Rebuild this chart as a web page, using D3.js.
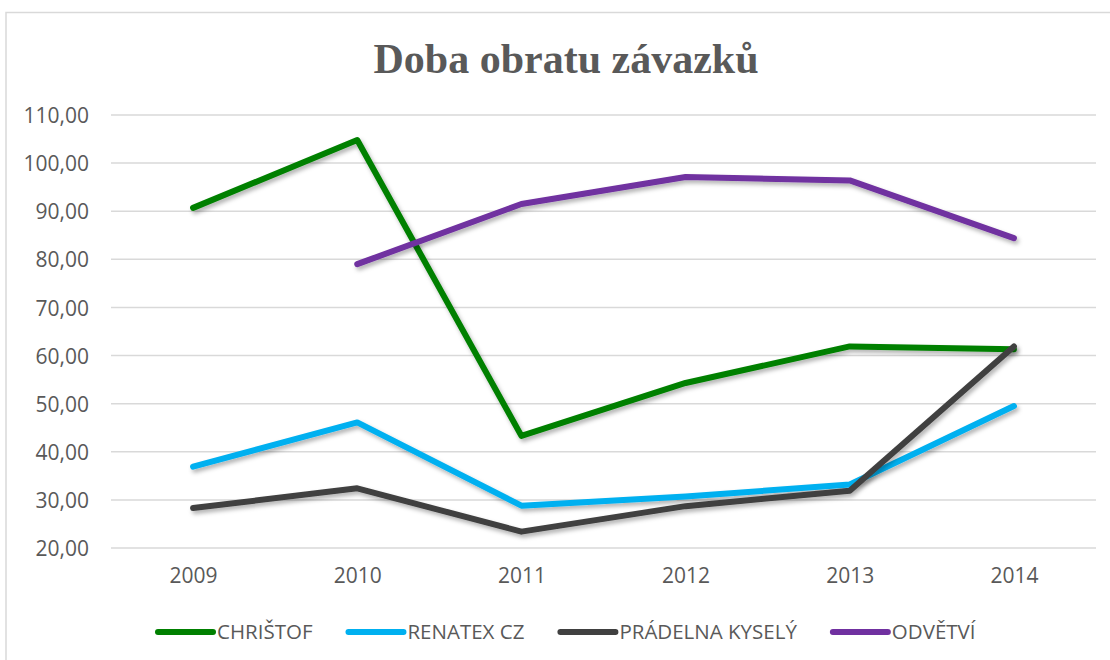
<!DOCTYPE html>
<html>
<head>
<meta charset="utf-8">
<script src="https://cdn.jsdelivr.net/npm/d3@7"></script>
<style>
  body { margin: 0; background: #fff; }
  text { font-family: "Open Sans", sans-serif; fill: #595959; }
</style>
</head>
<body>
<div class="chart"></div>
<script>
var years = ["2009", "2010", "2011", "2012", "2013", "2014"];
var yTicks = [20, 30, 40, 50, 60, 70, 80, 90, 100, 110];
var christof = [90.7, 104.8, 43.3, 54.3, 61.9, 61.3];
var renatex = [36.9, 46.1, 28.8, 30.7, 33.2, 49.5];
var pradelna = [28.3, 32.4, 23.4, 28.7, 31.9, 61.9];
var odvetvi = [null, 79.0, 91.5, 97.1, 96.4, 84.4];
var names = ["CHRIŠTOF", "RENATEX CZ", "PRÁDELNA KYSELÝ", "ODVĚTVÍ"];
var colors = ["#008000", "#00b0f0", "#404040", "#7030a0"];

var series = [christof, renatex, pradelna, odvetvi].map(function (vals, i) {
  return { name: names[i], color: colors[i], values: vals };
});

var svgWidth = 1110;
var svgHeight = 660;
var margin = { top: 115, right: 14, bottom: 112, left: 111 };
var width = svgWidth - margin.left - margin.right;
var height = svgHeight - margin.top - margin.bottom;

var svg = d3.select(".chart")
  .append("svg")
  .attr("width", svgWidth)
  .attr("height", svgHeight);

var defs = svg.append("defs");
var filter = defs.append("filter")
  .attr("id", "shadow")
  .attr("x", "-10%").attr("y", "-10%")
  .attr("width", "120%").attr("height", "130%");
filter.append("feDropShadow")
  .attr("dx", 2).attr("dy", 3)
  .attr("stdDeviation", 2)
  .attr("flood-color", "#000")
  .attr("flood-opacity", 0.3);

// outer chart border
svg.append("rect")
  .attr("x", 6).attr("y", 12.5)
  .attr("width", svgWidth + 10).attr("height", svgHeight + 10)
  .attr("fill", "none")
  .attr("stroke", "#d9d9d9")
  .attr("stroke-width", 1.5);

svg.append("text")
  .attr("x", 566)
  .attr("y", 73)
  .attr("text-anchor", "middle")
  .style("font-family", "'Liberation Serif', 'Times New Roman', serif")
  .style("font-weight", "bold")
  .style("font-size", "42px")
  .text("Doba obratu závazků");

var chartGroup = svg.append("g")
  .attr("transform", `translate(${margin.left}, ${margin.top})`);

var x = d3.scalePoint()
  .domain(years)
  .range([0, width])
  .padding(0.5);

var y = d3.scaleLinear()
  .domain([20, 110])
  .range([height, 0]);

// gridlines
chartGroup.append("g")
  .selectAll("line")
  .data(yTicks)
  .enter()
  .append("line")
  .attr("x1", 0).attr("x2", width)
  .attr("y1", d => y(d)).attr("y2", d => y(d))
  .attr("stroke", "#d9d9d9")
  .attr("stroke-width", 1.5);

var leftAxis = d3.axisLeft(y)
  .tickValues(yTicks)
  .tickSize(0)
  .tickPadding(22)
  .tickFormat(d => d3.format(".2f")(d).replace(".", ","));

var yAxisG = chartGroup.append("g").call(leftAxis);
yAxisG.select(".domain").remove();
yAxisG.selectAll("text")
  .style("font-size", "21px")
  .attr("font-family", null)
  .attr("fill", null)
  .attr("dy", "0.36em");

var bottomAxis = d3.axisBottom(x).tickSize(0).tickPadding(20);
var xAxisG = chartGroup.append("g")
  .attr("transform", `translate(0, ${height})`)
  .call(bottomAxis);
xAxisG.select(".domain").remove();
xAxisG.selectAll("text")
  .style("font-size", "21px")
  .attr("font-family", null)
  .attr("fill", null);

var line = d3.line()
  .defined(d => d != null)
  .x((d, i) => x(years[i]))
  .y(d => y(d));

chartGroup.selectAll(".series")
  .data(series)
  .enter()
  .append("path")
  .attr("class", "series")
  .attr("d", d => line(d.values))
  .attr("fill", "none")
  .attr("stroke", d => d.color)
  .attr("stroke-width", 6)
  .attr("stroke-linecap", "round")
  .attr("stroke-linejoin", "round")
  .attr("filter", "url(#shadow)");

// legend
var legend = svg.append("g").attr("transform", "translate(0, 632)");
var lx = 158;
series.forEach(function (s) {
  var item = legend.append("g");
  item.append("line")
    .attr("x1", lx).attr("x2", lx + 55)
    .attr("y1", 0).attr("y2", 0)
    .attr("stroke", s.color)
    .attr("stroke-width", 6)
    .attr("stroke-linecap", "round");
  var t = item.append("text")
    .attr("x", lx + 59)
    .attr("y", 0)
    .attr("dy", "0.36em")
    .style("font-size", "20.5px")
    .text(s.name);
  lx += 59 + t.node().getComputedTextLength() + 36;
});
</script>
</body>
</html>
